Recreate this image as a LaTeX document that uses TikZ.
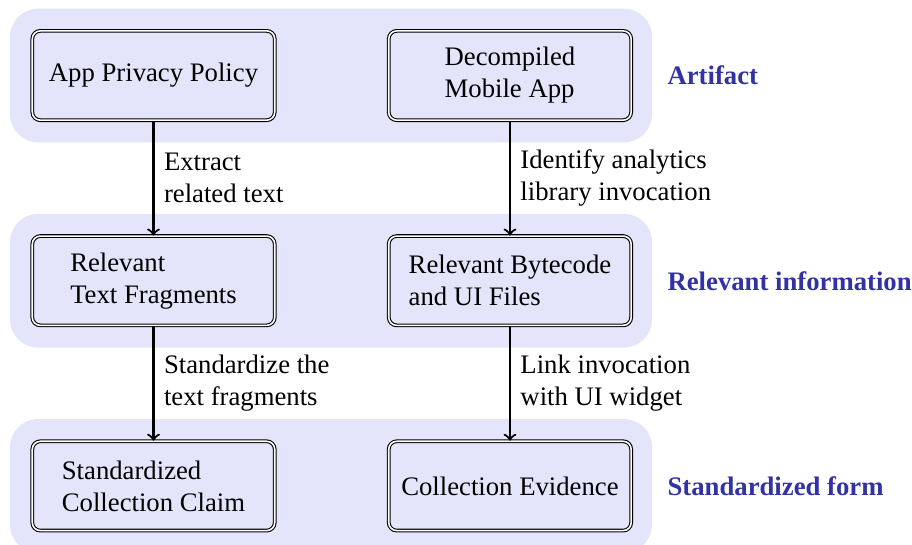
\documentclass[tikz,border=0pt]{standalone}
\usepackage{fontspec}
\setmainfont{Liberation Serif}
\usetikzlibrary{calc}
\newcommand{\ROWSEP}{2.7}
\newcommand{\COLL}{2.02}
\newcommand{\COLR}{6.71}
\newcommand{\YBOT}{0.776}
\newcommand{\LINEPT}{0.8pt}
\definecolor{mylav}{RGB}{228,228,250}
\definecolor{myindigo}{RGB}{50,50,165}

\begin{document}
\begin{tikzpicture}[
	stage/.style={draw, double, double distance=0.6pt, rounded corners=3pt, minimum width=3.19cm, minimum height=1.175cm, align=left},
	band/.style={fill=mylav, rounded corners=0.37cm},
	tag/.style={anchor=west, font=\bfseries, text=myindigo},
	flow/.style={->, line width=\LINEPT},
	flowtext/.style={midway, right, xshift=0.2pt, align=left}
]
	\useasboundingbox (0,0) rectangle (12.0,7.17);

		%% background bands
		\foreach \r in {0,1,2}
			\fill[band] (0.132,{\YBOT+\r*\ROWSEP-0.88}) rectangle (8.58,{\YBOT+\r*\ROWSEP+0.88});

		%% stages
		\node[stage] (policy) at (\COLL,{\YBOT+2*\ROWSEP}) {App Privacy Policy};
		\node[stage] (apk) at (\COLR,{\YBOT+2*\ROWSEP}) {Decompiled\\Mobile App};
		\node[stage] (frags) at (\COLL,{\YBOT+\ROWSEP}) {Relevant\\Text Fragments};
		\node[stage] (bytecode) at (\COLR,{\YBOT+\ROWSEP}) {Relevant Bytecode\\and UI Files};
		\node[stage] (claim) at (\COLL,\YBOT) {Standardized\\Collection Claim};
		\node[stage] (evidence) at (\COLR,\YBOT) {Collection Evidence};

		\node[tag] (artifact) at (8.66,{\YBOT+2*\ROWSEP}) {Artifact};
		\node[tag] (relinfo) at (8.66,{\YBOT+\ROWSEP}) {Relevant information};
		\node[tag] (stdform) at (8.66,\YBOT) {Standardized form};

		%% steps
		\draw[flow] (policy) -- (frags) node[flowtext] (extract) {Extract\\related text};
		\draw[flow] (apk) -- (bytecode) node[flowtext] (identify) {Identify analytics\\library invocation};
		\draw[flow] (frags) -- (claim) node[flowtext] (standardize) {Standardize the\\text fragments};
		\draw[flow] (bytecode) -- (evidence) node[flowtext] (link) {Link invocation\\with UI widget};

	\end{tikzpicture}
\end{document}
